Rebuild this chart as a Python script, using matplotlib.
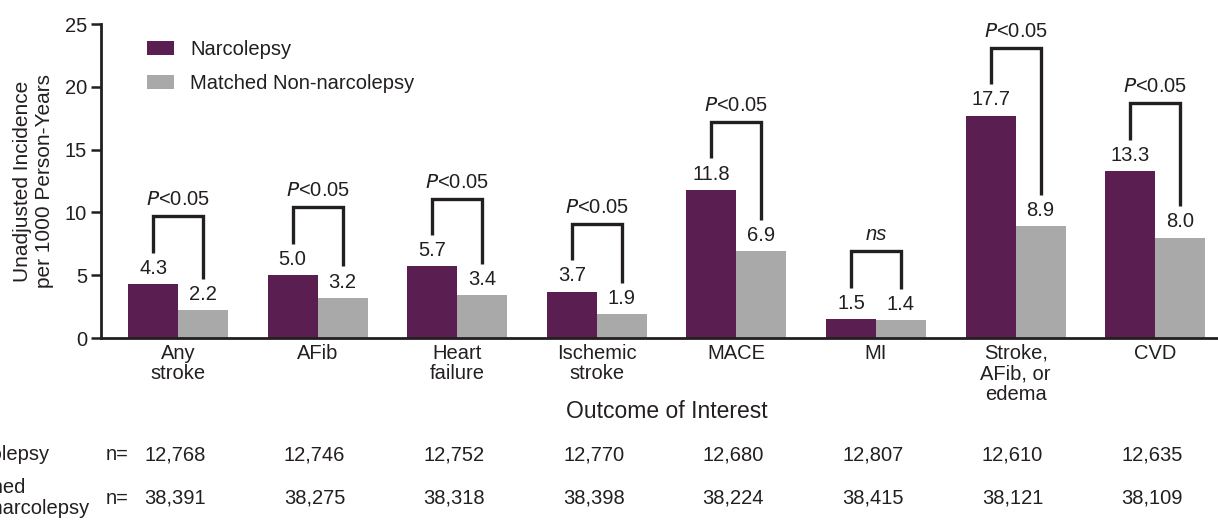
import matplotlib
matplotlib.use("Agg")
import matplotlib.pyplot as plt
import numpy as np

plt.rcParams['font.family'] = ['Liberation Sans', 'DejaVu Sans']

outcomes = ["Any\nstroke", "AFib", "Heart\nfailure", "Ischemic\nstroke", "MACE", "MI",
            "Stroke,\nAFib, or\nedema", "CVD"]
narcolepsy = [4.3, 5.0, 5.7, 3.7, 11.8, 1.5, 17.7, 13.3]
matched = [2.2, 3.2, 3.4, 1.9, 6.9, 1.4, 8.9, 8.0]
significance = ["P<0.05", "P<0.05", "P<0.05", "P<0.05", "P<0.05", "ns", "P<0.05", "P<0.05"]
n_narcolepsy = ["12,768", "12,746", "12,752", "12,770", "12,680", "12,807", "12,610", "12,635"]
n_matched = ["38,391", "38,275", "38,318", "38,398", "38,224", "38,415", "38,121", "38,109"]

PURPLE = "#5a1f50"
GRAY = "#a9a9a9"
INK = "#231f20"
FS = 14.5

W, H = 1218, 520
fig = plt.figure(figsize=(W / 100, H / 100), dpi=100)
ax = fig.add_axes([101 / W, (H - 338) / H, (W - 101) / W, (338 - 24) / H])

x = np.arange(len(outcomes))
bw = 0.358
ax.bar(x - bw / 2, narcolepsy, width=bw, color=PURPLE, label="Narcolepsy", zorder=2)
ax.bar(x + bw / 2, matched, width=bw, color=GRAY, label="Matched Non-narcolepsy", zorder=2)

ax.set_xlim(-0.552, 7.45)
ax.set_ylim(0, 25)
ax.set_yticks([0, 5, 10, 15, 20, 25])
ax.set_xticks(x)
ax.set_xticklabels(outcomes, fontsize=FS, color=INK, linespacing=1.1)
ax.tick_params(axis='x', length=0, pad=4)
ax.tick_params(axis='y', length=7, width=1.8, color=INK, labelsize=FS, labelcolor=INK, pad=3)

for s in ["top", "right"]:
    ax.spines[s].set_visible(False)
for s in ["left", "bottom"]:
    ax.spines[s].set_linewidth(2)
    ax.spines[s].set_color(INK)

ax.set_ylabel("Unadjusted Incidence\nper 1000 Person-Years", fontsize=FS + 0.5, color=INK,
              linespacing=1.15, labelpad=8)

# value labels and significance brackets
for i in range(len(outcomes)):
    a, b = narcolepsy[i], matched[i]
    xa, xb = x[i] - bw / 2, x[i] + bw / 2
    ax.text(xa, a + 0.5, f"{a:.1f}", ha='center', va='bottom', fontsize=FS, color=INK)
    ax.text(xb, b + 0.5, f"{b:.1f}", ha='center', va='bottom', fontsize=FS, color=INK)
    top = max(a, b) + 5.4
    ax.plot([xa, xa, xb, xb], [a + 2.5, top, top, b + 2.5], color=INK, lw=2.4,
            solid_joinstyle='miter', solid_capstyle='butt', clip_on=False, zorder=3)
    lab = significance[i]
    if lab.startswith("P"):
        ax.text(x[i], top + 0.55, "$\\mathit{P}$" + lab[1:], ha='center', va='bottom',
                fontsize=FS, color=INK)
    else:
        ax.text(x[i], top + 0.55, lab, ha='center', va='bottom', fontsize=FS, color=INK,
                style='italic')

ax.text(667 / W, (H - 412) / H, "Outcome of Interest", transform=fig.transFigure,
        ha='center', va='center', fontsize=16.5, color=INK)

leg = ax.legend(loc='upper left', bbox_to_anchor=((147 - 101) / (W - 101), (338 - 40) / 314),
                frameon=False, fontsize=FS, handlelength=1.35, handleheight=0.75,
                handletextpad=0.8, labelspacing=0.75, borderpad=0, borderaxespad=0)
for t in leg.get_texts():
    t.set_color(INK)

# sample size table beneath the axis
row_y = [(H - 455) / H, (H - 498) / H]
for ry, lab, vals in zip(row_y, ["Narcolepsy", "Matched\nNon-narcolepsy"],
                         [n_narcolepsy, n_matched]):
    fig.text(-52 / W, ry, lab, ha='left', va='center', fontsize=FS, color=INK,
             linespacing=1.1)
    fig.text(106 / W, ry, "n=", ha='left', va='center', fontsize=FS, color=INK)
    for i, v in enumerate(vals):
        xf = ax.transData.transform((x[i], 0))[0] / W
        fig.text(xf - 3 / W, ry, v, ha='center', va='center', fontsize=FS, color=INK)

fig.savefig("out.png", dpi=100)
